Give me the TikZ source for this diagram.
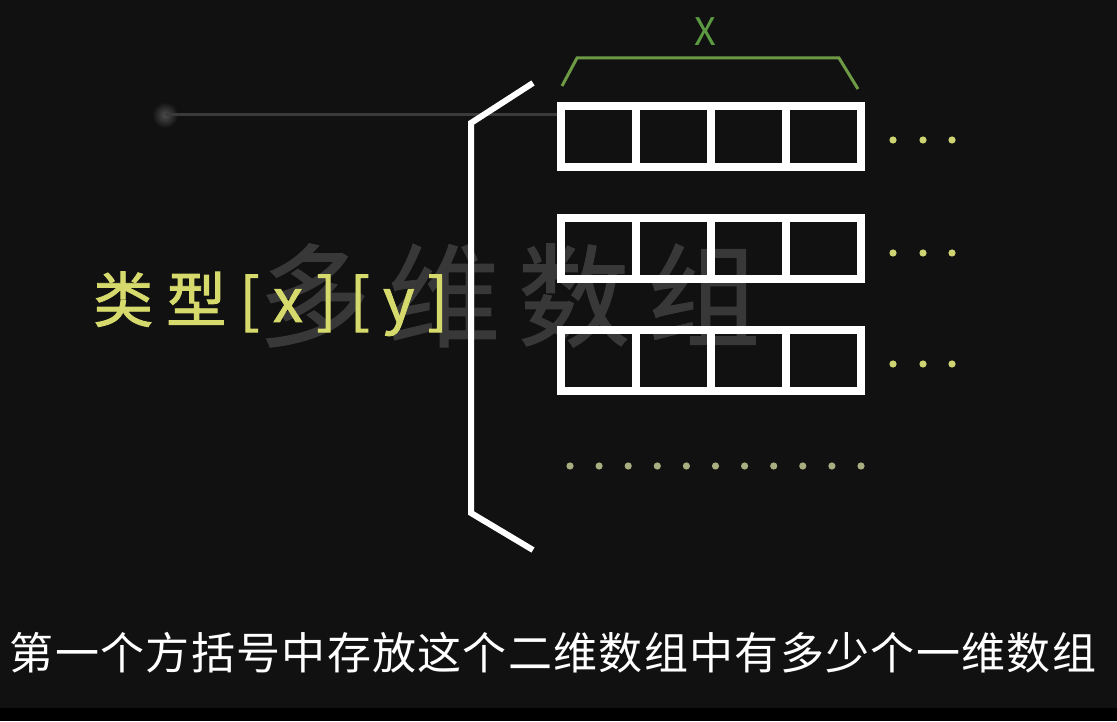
\documentclass[tikz,border=0pt]{standalone}
\usepackage{fontspec}
\newfontfamily\cjk{Noto Sans CJK SC}
\definecolor{bgc}{HTML}{111111}
\definecolor{wmc}{HTML}{383838}
\definecolor{yel}{HTML}{D6DA6C}
\definecolor{grn}{HTML}{6E9A45}
\definecolor{grnx}{HTML}{5C9B42}
\definecolor{dotc}{HTML}{CFD472}
\definecolor{dotb}{HTML}{A9AE80}
\definecolor{linec}{HTML}{3A3A3A}
\tikzset{
  cellrow/.style={draw=white,line width=8pt},
  bracketline/.style={draw=white,line width=6pt,line join=miter},
  bracegreen/.style={draw=grn,line width=3pt},
  ydot/.style={fill=dotc},
  gdot/.style={fill=dotb},
}
\begin{document}
\begin{tikzpicture}[x=1pt,y=1pt]
\fill[bgc] (0,0) rectangle (1117,721);
\fill[black] (0,0) rectangle (1117,13);
\useasboundingbox (0,0) rectangle (1117,721);
% watermark
\node[anchor=base west,inner sep=0,text=wmc,font={\cjk\fontsize{112}{120}\selectfont\addfontfeature{LetterSpace=16,FakeBold=1}}] (wm) at (258,383) {多维数组};
% faint horizontal line with glow
\shade[inner color=linec!90!white,outer color=bgc] (165,606) circle (13);
\coordinate (lineA) at (165,606);
\coordinate (lineB) at (560,606);
\draw[linec,line width=3pt] (lineA) -- (lineB);
% bracket
\coordinate (bt) at (533,638);
\coordinate (bc1) at (471,598);
\coordinate (bc2) at (471,208);
\coordinate (bb) at (533,171);
\draw[bracketline] (bt) -- (bc1) -- (bc2) -- (bb);
% rows of cells
\foreach \top/\bot in {615/554, 503/442, 391/330}{
  \draw[cellrow] (561,\bot) rectangle (861,\top);
  \foreach \xx in {636,711,786}{
    \draw[cellrow] (\xx,\bot) -- (\xx,\top);
  }
}
% green brace
\coordinate (g1) at (562,635);
\coordinate (g2) at (577,663);
\coordinate (g3) at (839,663);
\coordinate (g4) at (858,632);
\draw[bracegreen] (g1) -- (g2) -- (g3) -- (g4);
\node[text=grnx,font={\fontsize{38}{40}\selectfont\cjk}] (xl) at (705,689) {X};
% dots at row ends
\foreach \yy in {581,468,357}{
  \foreach \xx in {893,923,952}{
    \fill[ydot] (\xx,\yy) circle (3.6);
  }
}
\foreach \i in {0,...,10}{
  \fill[gdot] ({570+29.1*\i},255) circle (3.6);
}
% label
\node[anchor=base west,inner sep=0,text=yel,font={\cjk\fontsize{60}{64}\selectfont\addfontfeature{LetterSpace=22,FakeBold=1.5}}] (lbl) at (93,399) {类型[x][y]};
% caption
\node[text=white,inner sep=0,font={\cjk\fontsize{44}{46}\selectfont\addfontfeature{LetterSpace=3}}] (cap) at (553,68) {第一个方括号中存放这个二维数组中有多少个一维数组};
\end{tikzpicture}
\end{document}
